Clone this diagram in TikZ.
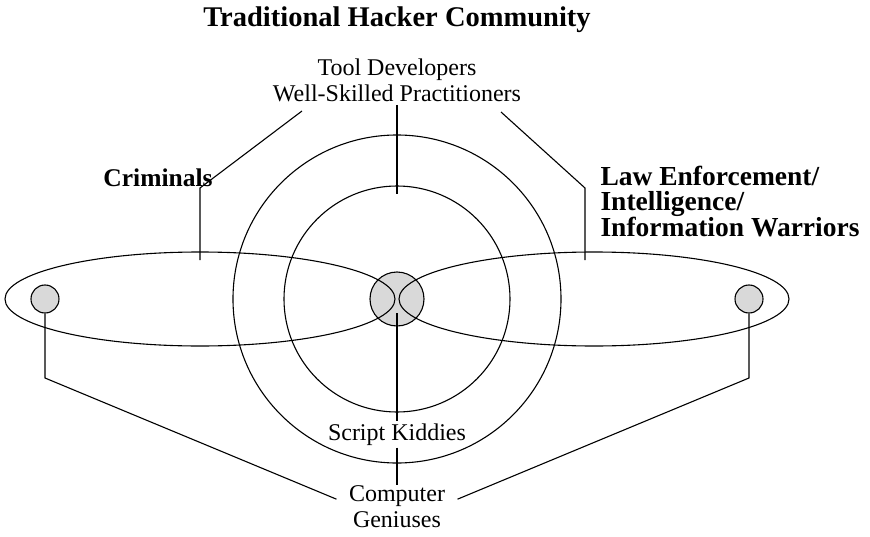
\documentclass[tikz,border=0pt]{standalone}
\usepackage{fontspec}
\setmainfont{Liberation Serif}
\usetikzlibrary{calc, positioning}

\begin{document}
\begin{tikzpicture}[x=1pt, y=1pt, line width=1.1pt,
    nhan/.style={font=\fontsize{24}{26}\selectfont, align=center, inner sep=2pt},
    nhom/.style={font=\fontsize{27.5}{25.5}\selectfont\bfseries, align=left, inner sep=0pt},
    cham/.style={circle, draw, fill=gray!30, inner sep=0pt}]

    \useasboundingbox (-397,-237) rectangle (473,299);

    % =================================================================
    % 1. TỌA ĐỘ CÁC ĐIỂM CHÍNH
    % =================================================================
    \coordinate (O) at (0,0);          % tâm chung của hai vòng tròn
    \coordinate (L) at (-197,0);       % tâm elip trái
    \coordinate (R) at (197,0);        % tâm elip phải
    \coordinate (M) at (0,-14);        % chân đường dọc ở giữa
    \coordinate (T) at (0,105);        % đầu đường dọc phía trên

    % Đường gấp khúc phía trên, bên trái và bên phải
    \coordinate (A1) at (-95,188);
    \coordinate (A2) at (-197,111);
    \coordinate (A3) at (-197,39);
    \coordinate (B1) at (104,187);
    \coordinate (B2) at (188,111);
    \coordinate (B3) at (188,39);

    % Điểm gấp của hai đường phía dưới
    \coordinate (GL) at (-352,-79);
    \coordinate (GR) at (352,-79);

    % =================================================================
    % 2. HAI VÒNG TRÒN ĐỒNG TÂM VÀ VÒNG NHỎ Ở GIỮA
    % =================================================================
    \draw (O) circle (164);
    \draw (O) circle (113);
    \node[cham, minimum size=54pt] (tam) at (O) {};

    % =================================================================
    % 3. HAI ELIP CẮT NHAU TẠI TÂM
    % =================================================================
    \draw (L) ellipse (195 and 47);
    \draw (R) ellipse (195 and 47);
    \node[cham, minimum size=28pt] (chamL) at (-352,0) {};
    \node[cham, minimum size=28pt] (chamR) at (352,0) {};

    % =================================================================
    % 4. NHÃN (mốc base = dòng cuối)
    % =================================================================
    \node[nhom, font=\fontsize{28.5}{25.5}\selectfont\bfseries, anchor=base] (tieude)
        at (0,272) {Traditional Hacker Community};
    \node[nhan, anchor=base] (congcu) at (0,197) {Tool Developers\\Well-Skilled Practitioners};
    \node[nhom, font=\fontsize{25.5}{25.5}\selectfont\bfseries, anchor=base] (toipham)
        at (-239,113) {Criminals};
    \node[nhom, anchor=base west] (luat) at (203,63)
        {Law Enforcement/\\Intelligence/\\Information Warriors};
    \node[nhan, anchor=base] (tre) at (0,-141) {Script Kiddies};
    \node[nhan, anchor=base, inner xsep=12pt, inner ysep=0pt] (thientai) at (0,-228)
        {Computer\\Geniuses};

    % =================================================================
    % 5. CÁC ĐƯỜNG NỐI
    % =================================================================
    \draw (congcu.south) -- (T);
    \draw (A1) -- (A2) -- (A3);
    \draw (B1) -- (B2) -- (B3);
    \draw (M) -- (tre.north);
    \draw (tre.south) -- (thientai.north);
    \draw (chamL.south) -- (GL) -- ([yshift=7pt]thientai.west);
    \draw (chamR.south) -- (GR) -- ([yshift=7pt]thientai.east);

\end{tikzpicture}
\end{document}
